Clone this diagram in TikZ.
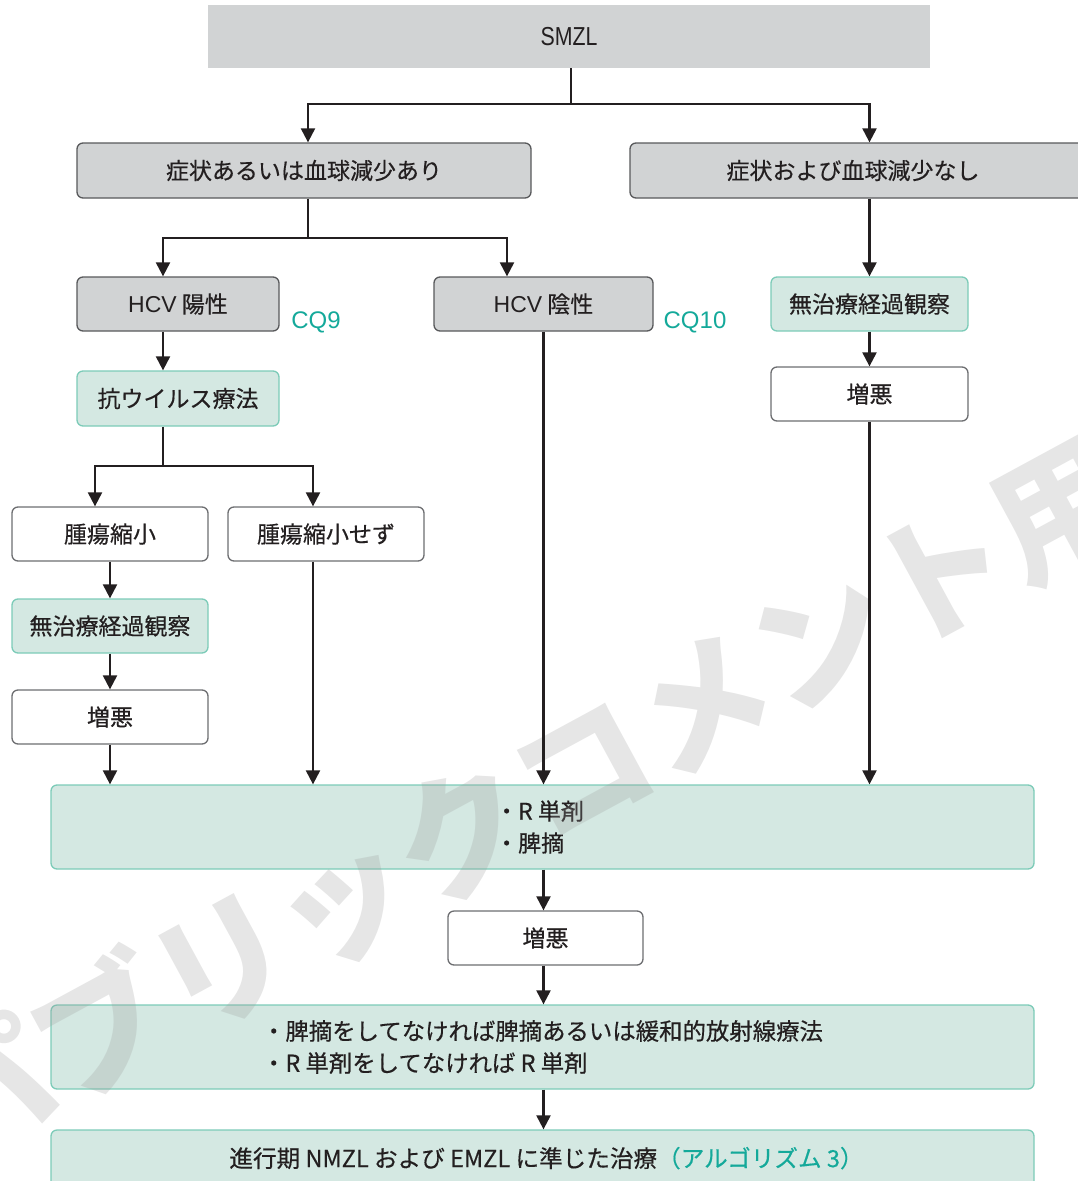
\documentclass[tikz,border=0pt]{standalone}
\usepackage{fontspec}
\usetikzlibrary{arrows.meta}
\newfontfamily\jp[FakeBold=0.4]{Noto Sans CJK JP}
\newfontfamily\jpwm{Noto Sans CJK JP}
\newfontfamily\lat{Liberation Sans}
\definecolor{grayfill}{HTML}{D1D3D4}
\definecolor{grayline}{HTML}{58595B}
\definecolor{whiteline}{HTML}{6D6E71}
\definecolor{greenfill}{HTML}{D4E8E2}
\definecolor{tealline}{HTML}{7CCBB8}
\definecolor{tealtext}{HTML}{14A99A}
\definecolor{txt}{HTML}{231F20}
\definecolor{wmark}{HTML}{9A9A9A}
\tikzset{
  boxbase/.style={rounded corners=6pt, line width=1.3pt, inner sep=0pt, text=txt,
    font=\jp\fontsize{23}{32}\selectfont},
  graybox/.style={boxbase, draw=grayline, fill=grayfill},
  greenbox/.style={boxbase, draw=tealline, fill=greenfill},
  whitebox/.style={boxbase, draw=whiteline, fill=white},
  conn/.style={line width=2.2pt, draw=txt},
  arr/.style={conn, -{Triangle[width=14pt,length=14pt]}},
  cqlabel/.style={text=tealtext, inner sep=0pt, font=\lat\fontsize{24}{26}\selectfont},
}
\begin{document}
\begin{tikzpicture}[x=1pt,y=-1pt]
\useasboundingbox (0,0) rectangle (1078,1181);
% boxes
\node[fill=grayfill, inner sep=0pt, minimum width=722pt, minimum height=63pt, text=txt,
  font=\lat\fontsize{26}{28}\selectfont] (smzl) at (569,36.5) {\scalebox{0.82}[1]{SMZL}};
\node[graybox, minimum width=454pt, minimum height=55pt] (A) at (304,170.5) {症状あるいは血球減少あり};
\node[graybox, minimum width=460pt, minimum height=55pt] (B) at (860,170.5) {\hspace*{-14pt}症状および血球減少なし};
\node[graybox, minimum width=202pt, minimum height=54pt] (hcvp) at (178,304) {{\lat HCV} 陽性};
\node[graybox, minimum width=219pt, minimum height=54pt] (hcvn) at (543.5,304) {{\lat HCV} 陰性};
\node[cqlabel] (cq9) at (316,322) {CQ9};
\node[cqlabel] (cq10) at (695,322) {CQ10};
\node[greenbox, minimum width=197pt, minimum height=54pt] (obsR) at (869.5,304) {無治療経過観察};
\node[whitebox, minimum width=197pt, minimum height=54pt] (wR) at (869.5,394) {増悪};
\node[greenbox, minimum width=202pt, minimum height=55pt] (av) at (178,398.5) {抗ウイルス療法};
\node[whitebox, minimum width=196pt, minimum height=54pt] (shrink) at (110,534) {腫瘍縮小};
\node[whitebox, minimum width=196pt, minimum height=54pt] (noshrink) at (326,534) {腫瘍縮小せず};
\node[greenbox, minimum width=196pt, minimum height=54pt] (obsL) at (110,626) {無治療経過観察};
\node[whitebox, minimum width=196pt, minimum height=54pt] (wL) at (110,717) {増悪};
\node[greenbox, minimum width=983pt, minimum height=84pt, align=left] (rbox) at (542.5,827)
  {\hspace*{-6pt}・R 単剤\\\hspace*{-6pt}・脾摘};
\node[whitebox, minimum width=195pt, minimum height=54pt] (wC) at (545.5,938) {増悪};
\node[greenbox, minimum width=983pt, minimum height=84pt, align=left,
  font=\jp\fontsize{23.4}{32}\selectfont] (r2box) at (542.5,1047)
  {・脾摘をしてなければ脾摘あるいは緩和的放射線療法\\・R 単剤をしてなければ R 単剤};
\node[greenbox, minimum width=983pt, minimum height=65pt,
  font=\jp\fontsize{23.6}{30}\selectfont] (last) at (542.5,1162.5)
  {\hspace*{8pt}\raisebox{11pt}{進行期 NMZL および EMZL に準じた治療\textcolor{tealtext}{（アルゴリズム 3）}}};
% watermark
\node[text=wmark, opacity=0.25, rotate=28.5, inner sep=0pt,
  font=\jpwm\bfseries\fontsize{136}{140}\selectfont] (wm) at (521,800) {パブリックコメント用};
% connectors
\coordinate (j1) at (571,104);
\coordinate (j2) at (308,238);
\coordinate (j3) at (163,466);
\draw[conn] (smzl.south -| j1) -- (j1);
\draw[arr] (j1) -| ([xshift=4pt]A.north);
\draw[arr] (j1) -| (obsR.north |- B.north);
\draw[conn] (j2 |- A.south) -- (j2);
\draw[arr] (j2) -| ([xshift=-15pt]hcvp.north);
\draw[arr] (j2) -| ([xshift=-36.5pt]hcvn.north);
\draw[arr] (obsR.north |- B.south) -- (obsR.north);
\draw[arr] (obsR.south) -- (wR.north);
\draw[arr] ([xshift=-15pt]hcvp.south) -- ([xshift=-15pt]av.north);
\draw[conn] ([xshift=-15pt]av.south) -- (j3);
\draw[arr] (j3) -| ([xshift=-15pt]shrink.north);
\draw[arr] (j3) -| ([xshift=-13pt]noshrink.north);
\draw[arr] (shrink.south) -- (obsL.north);
\draw[arr] (obsL.south) -- (wL.north);
\draw[arr] (wL.south) -- (wL.south |- rbox.north);
\draw[arr] ([xshift=-13pt]noshrink.south) -- ([xshift=-13pt]noshrink.south |- rbox.north);
\draw[arr] (hcvn.south) -- (hcvn.south |- rbox.north);
\draw[arr] (wR.south) -- (wR.south |- rbox.north);
\draw[arr] (hcvn.south |- rbox.south) -- (hcvn.south |- wC.north);
\draw[arr] (hcvn.south |- wC.south) -- (hcvn.south |- r2box.north);
\draw[arr] (hcvn.south |- r2box.south) -- (hcvn.south |- last.north);
\end{tikzpicture}
\end{document}
